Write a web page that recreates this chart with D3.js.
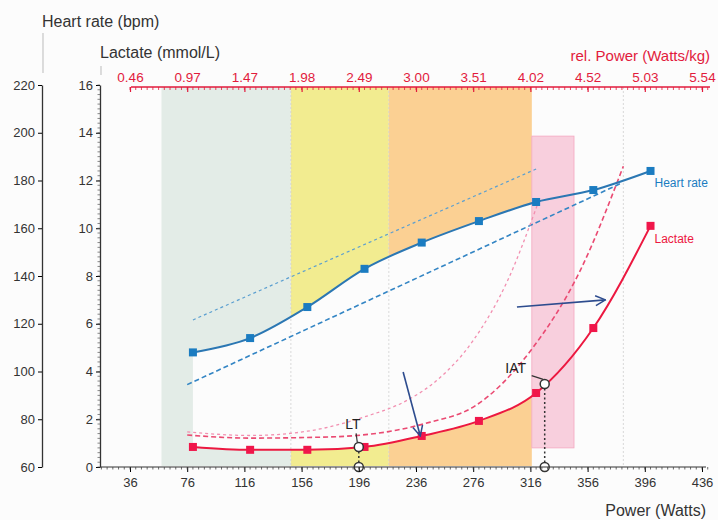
<!DOCTYPE html>
<html>
<head>
<meta charset="utf-8">
<script src="https://cdn.jsdelivr.net/npm/d3@7"></script>
<style>
  body { margin: 0; background: #fcfcfc; }
  svg { font-family: "Liberation Sans", Arial, sans-serif; }
</style>
</head>
<body>
<svg id="chart"></svg>
<script>
// test steps
var power = [80, 120, 160, 200, 240, 280, 320, 360, 400]
var heartRate = [108, 114, 127, 143, 154, 163, 171, 176, 184]
var lactate = [0.84, 0.72, 0.72, 0.84, 1.3, 1.93, 3.1, 5.82, 10.1]

// dashed reference lines [watts, value]
var hrDashUpper = [[80, 121.6], [320, 184.8]]
var hrDashLower = [[76, 94.5], [380, 179]]
var lacDashUpper = [[76, 1.47], [120, 1.32], [160, 1.5], [200, 2.1], [230, 2.8], [250, 3.6], [276, 5.3], [300, 7.8], [321, 11.0]]
var lacDashLower = [[76, 1.34], [120, 1.21], [176, 1.26], [223, 1.55], [246, 1.88], [276, 2.51], [316, 4.86], [351, 8.25], [381, 12.6]]

// axes
var powerTicks = [36, 76, 116, 156, 196, 236, 276, 316, 356, 396, 436]
var relPowerLabels = ["0.46", "0.97", "1.47", "1.98", "2.49", "3.00", "3.51", "4.02", "4.52", "5.03", "5.54"]
var hrTicks = [60, 80, 100, 120, 140, 160, 180, 200, 220]
var lacTicks = [0, 2, 4, 6, 8, 10, 12, 14, 16]

// training zones [from, to] watts
var zoneRanges = [[58, 148.5], [148.5, 217], [217, 317]]
var zoneColors = ["#e3ece7", "#f2ec90", "#fbd093"]
var iatZone = { from: 317, to: 346.5, top: 13.86, bottom: 0.8 }
var gridLines = [148.5, 217, 381]

var lt = { power: 196, lactate: 0.84 }
var iat = { power: 326, lactate: 3.48 }
var arrows = [
    { from: [227, 3.98], to: [239, 1.3] },
    { from: [306.6, 6.7], to: [368.5, 7.0] }
]

var dimensions = {
    width: 718,
    height: 520,
    plotTop: 87,
    plotBottom: 467,
    hrAxisX: 42,
    lacAxisX: 100
}

var svg = d3.select("#chart")
    .attr("width", dimensions.width)
    .attr("height", dimensions.height)

var xScale = d3.scaleLinear()
    .domain([36, 436])
    .range([130, 702])
var hrScale = d3.scaleLinear()
    .domain([60, 220])
    .range([dimensions.plotBottom, 85])
var lacScale = d3.scaleLinear()
    .domain([0, 16])
    .range([dimensions.plotBottom, 85])

// zones
svg.append("g")
    .selectAll("rect")
    .data(zoneRanges)
    .enter()
    .append("rect")
    .attr("x", d => xScale(d[0]))
    .attr("y", dimensions.plotTop)
    .attr("width", d => xScale(d[1]) - xScale(d[0]))
    .attr("height", dimensions.plotBottom - 1 - dimensions.plotTop)
    .attr("fill", (d, i) => zoneColors[i])

var steps = power.map((p, i) => ({ p: p, hr: heartRate[i], lac: lactate[i] }))

// white gap between heart rate and lactate curves
svg.append("path")
    .datum(steps)
    .attr("d", d3.area()
        .x(d => xScale(d.p))
        .y0(d => lacScale(d.lac))
        .y1(d => hrScale(d.hr))
        .curve(d3.curveMonotoneX))
    .attr("fill", "#fcfcfc")

svg.append("rect")
    .attr("x", xScale(iatZone.from))
    .attr("y", lacScale(iatZone.top))
    .attr("width", xScale(iatZone.to) - xScale(iatZone.from))
    .attr("height", lacScale(iatZone.bottom) - lacScale(iatZone.top))
    .attr("fill", "#f6c3d5")
    .attr("fill-opacity", 0.8)
    .attr("stroke", "#f4a8c0")
    .attr("stroke-width", 0.8)

svg.append("g")
    .selectAll("line")
    .data(gridLines)
    .enter()
    .append("line")
    .attr("x1", d => xScale(d))
    .attr("x2", d => xScale(d))
    .attr("y1", dimensions.plotTop)
    .attr("y2", dimensions.plotBottom)
    .attr("stroke", "#d0d0d0")
    .attr("stroke-width", 0.8)
    .attr("stroke-dasharray", "2,2")

// dashed lines
var dashLine = (ys) => d3.line().x(d => xScale(d[0])).y(d => ys(d[1])).curve(d3.curveMonotoneX)

svg.append("path").datum(hrDashUpper)
    .attr("d", dashLine(hrScale))
    .attr("fill", "none").attr("stroke", "#5b9fd0").attr("stroke-width", 1.2).attr("stroke-dasharray", "3,3")
svg.append("path").datum(hrDashLower)
    .attr("d", dashLine(hrScale))
    .attr("fill", "none").attr("stroke", "#3385c4").attr("stroke-width", 1.6).attr("stroke-dasharray", "5,3")
svg.append("path").datum(lacDashUpper)
    .attr("d", dashLine(lacScale))
    .attr("fill", "none").attr("stroke", "#f28fb0").attr("stroke-width", 1.3).attr("stroke-dasharray", "3,3")
svg.append("path").datum(lacDashLower)
    .attr("d", dashLine(lacScale))
    .attr("fill", "none").attr("stroke", "#ea4a72").attr("stroke-width", 1.6).attr("stroke-dasharray", "5,3")

// main curves
svg.append("path").datum(steps)
    .attr("d", d3.line().x(d => xScale(d.p)).y(d => hrScale(d.hr)).curve(d3.curveMonotoneX))
    .attr("fill", "none").attr("stroke", "#2b77b3").attr("stroke-width", 2)
svg.append("path").datum(steps)
    .attr("d", d3.line().x(d => xScale(d.p)).y(d => lacScale(d.lac)).curve(d3.curveMonotoneX))
    .attr("fill", "none").attr("stroke", "#ec1840").attr("stroke-width", 2)

svg.append("g").selectAll("rect").data(steps).enter().append("rect")
    .attr("x", d => xScale(d.p) - 4)
    .attr("y", d => hrScale(d.hr) - 4)
    .attr("width", 8).attr("height", 8)
    .attr("fill", "#1b7cc1")
svg.append("g").selectAll("rect").data(steps).enter().append("rect")
    .attr("x", d => xScale(d.p) - 4)
    .attr("y", d => lacScale(d.lac) - 4)
    .attr("width", 8).attr("height", 8)
    .attr("fill", "#f0164a")

// LT / IAT markers
var marks = [
    { name: "LT", d: lt, dx: -6, dy: -18 },
    { name: "IAT", d: iat, dx: -29, dy: -11 }
]
marks.forEach(function (m) {
    var cx = xScale(m.d.power), cy = lacScale(m.d.lactate)
    svg.append("line")
        .attr("x1", cx).attr("x2", cx)
        .attr("y1", cy).attr("y2", dimensions.plotBottom)
        .attr("stroke", "#333").attr("stroke-width", 1.5).attr("stroke-dasharray", "2,2.5")
    svg.append("line")
        .attr("x1", cx + m.dx * 0.45).attr("y1", cy + m.dy * 0.75)
        .attr("x2", cx - 1.5).attr("y2", cy - 4.5)
        .attr("stroke", "#333").attr("stroke-width", 1.2)
    svg.append("text")
        .attr("x", cx + m.dx)
        .attr("y", cy + m.dy)
        .attr("text-anchor", "middle")
        .attr("font-size", "14px")
        .attr("fill", "#222")
        .text(m.name)
})

// arrows
svg.append("defs").append("marker")
    .attr("id", "arrowhead")
    .attr("viewBox", "0 0 12 12")
    .attr("refX", 11).attr("refY", 6)
    .attr("markerWidth", 12).attr("markerHeight", 12)
    .attr("markerUnits", "userSpaceOnUse")
    .attr("orient", "auto")
    .append("path")
    .attr("d", "M1,1 L11,6 L1,11")
    .attr("fill", "none")
    .attr("stroke", "#2d4c8e")
    .attr("stroke-width", 1.5)

svg.append("g").selectAll("line").data(arrows).enter().append("line")
    .attr("x1", d => xScale(d.from[0])).attr("y1", d => lacScale(d.from[1]))
    .attr("x2", d => xScale(d.to[0])).attr("y2", d => lacScale(d.to[1]))
    .attr("stroke", "#2d4c8e").attr("stroke-width", 1.6)
    .attr("marker-end", "url(#arrowhead)")

// legend labels at line ends
svg.append("text")
    .attr("x", xScale(power[8]) + 4).attr("y", hrScale(heartRate[8]) + 16)
    .attr("font-size", "12px").attr("fill", "#1b7cc1")
    .text("Heart rate")
svg.append("text")
    .attr("x", xScale(power[8]) + 4).attr("y", lacScale(lactate[8]) + 17)
    .attr("font-size", "12px").attr("fill", "#ec1840")
    .text("Lactate")

// circles after lines so they sit on top
;[lt, iat].forEach(function (d) {
    var cx = xScale(d.power)
    svg.append("circle").attr("cx", cx).attr("cy", lacScale(d.lactate)).attr("r", 4.5)
        .attr("fill", "#fff").attr("stroke", "#333").attr("stroke-width", 1.5)
    svg.append("circle").attr("cx", cx).attr("cy", dimensions.plotBottom).attr("r", 4.5)
        .attr("fill", "#fff").attr("stroke", "#333").attr("stroke-width", 1.5)
})

// bottom axis
var xAxisGen = d3.axisBottom(xScale)
    .tickValues(powerTicks)
    .tickSize(5)
    .tickPadding(6)
    .tickSizeOuter(0)
var xAxis = svg.append("g")
    .attr("transform", `translate(0,${dimensions.plotBottom})`)
    .call(xAxisGen)
xAxis.select(".domain").remove()
xAxis.append("line")
    .attr("x1", dimensions.lacAxisX).attr("x2", 706)
    .attr("stroke", "#333").attr("stroke-width", 1.2)
xAxis.append("g").selectAll("line")
    .data(d3.range(16, 441, 4))
    .enter().append("line")
    .attr("x1", d => xScale(d)).attr("x2", d => xScale(d))
    .attr("y1", 0).attr("y2", 2.5)
    .attr("stroke", "#444").attr("stroke-width", 0.8)

// top axis, relative power
var topAxisGen = d3.axisTop(xScale)
    .tickValues(powerTicks)
    .tickFormat((d, i) => relPowerLabels[i])
    .tickSize(-5)
    .tickPadding(5)
    .tickSizeOuter(0)
var topAxis = svg.append("g")
    .attr("transform", `translate(0,${dimensions.plotTop})`)
    .call(topAxisGen)
topAxis.select(".domain").remove()
topAxis.append("line")
    .attr("x1", 131).attr("x2", 710)
    .attr("stroke", "#e21b3c").attr("stroke-width", 1.6)
topAxis.append("g").selectAll("line")
    .data(d3.range(36, 441, 4))
    .enter().append("line")
    .attr("x1", d => xScale(d)).attr("x2", d => xScale(d))
    .attr("y1", 0).attr("y2", 3)
    .attr("stroke", "#e21b3c").attr("stroke-width", 0.8)
topAxis.selectAll(".tick line").attr("stroke", "#e21b3c").attr("stroke-width", 1.2)

// heart rate axis
var hrAxis = svg.append("g")
    .attr("transform", `translate(${dimensions.hrAxisX},0)`)
    .call(d3.axisLeft(hrScale).tickValues(hrTicks).tickSize(4).tickPadding(3).tickSizeOuter(0))
hrAxis.select(".domain").attr("stroke", "#333").attr("stroke-width", 1.3)

// lactate axis
var lacAxis = svg.append("g")
    .attr("transform", `translate(${dimensions.lacAxisX},0)`)
    .call(d3.axisLeft(lacScale).tickValues(lacTicks).tickSize(4).tickPadding(3).tickSizeOuter(0))
lacAxis.select(".domain").attr("stroke", "#333").attr("stroke-width", 1.3)
lacAxis.append("g").selectAll("line")
    .data(d3.range(0, 16.01, 0.2))
    .enter().append("line")
    .attr("x1", -2.5).attr("x2", 0)
    .attr("y1", d => lacScale(d)).attr("y2", d => lacScale(d))
    .attr("stroke", "#555").attr("stroke-width", 0.7)

svg.selectAll(".tick text").attr("font-size", "13px").attr("font-family", "Liberation Sans, Arial, sans-serif")
xAxis.selectAll(".tick text").attr("fill", "#333")
hrAxis.selectAll(".tick text").attr("fill", "#333")
lacAxis.selectAll(".tick text").attr("fill", "#333")
topAxis.selectAll(".tick text").attr("fill", "#e21b3c").attr("font-size", "13.5px")

// axis titles
svg.append("text")
    .attr("x", dimensions.hrAxisX).attr("y", 27)
    .attr("font-size", "16px").attr("fill", "#333")
    .text("Heart rate (bpm)")
svg.append("line")
    .attr("x1", 43).attr("x2", 43).attr("y1", 33).attr("y2", 73)
    .attr("stroke", "#bbb")
svg.append("text")
    .attr("x", dimensions.lacAxisX).attr("y", 58)
    .attr("font-size", "16px").attr("fill", "#333")
    .text("Lactate (mmol/L)")
svg.append("line")
    .attr("x1", 101).attr("x2", 101).attr("y1", 66).attr("y2", 75)
    .attr("stroke", "#bbb")
svg.append("text")
    .attr("x", 710).attr("y", 61)
    .attr("text-anchor", "end")
    .attr("font-size", "15px").attr("fill", "#e21b3c")
    .text("rel. Power (Watts/kg)")
svg.append("text")
    .attr("x", 706).attr("y", 516)
    .attr("text-anchor", "end")
    .attr("font-size", "16px").attr("fill", "#333")
    .text("Power (Watts)")
</script>
</body>
</html>
